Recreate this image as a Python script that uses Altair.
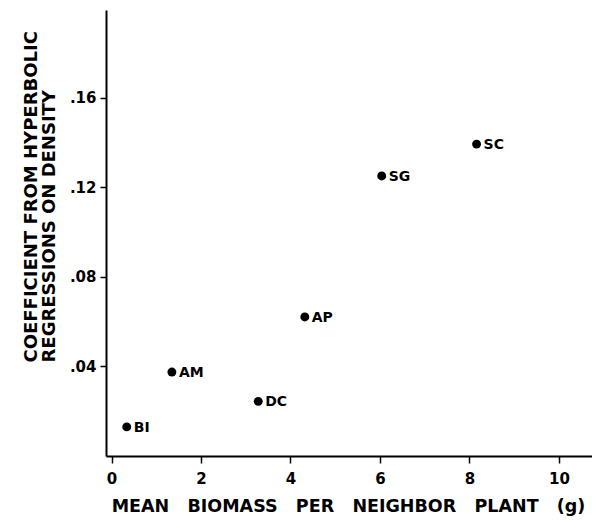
import altair as alt
import pandas as pd

species = ["BI", "AM", "DC", "AP", "SG", "SC"]
biomass = [0.34, 1.35, 3.28, 4.32, 6.04, 8.16]
coefficient = [0.0130, 0.0375, 0.0244, 0.0621, 0.1251, 0.1393]

x_ticks = [0, 2, 4, 6, 8, 10]
y_ticks = [0.04, 0.08, 0.12, 0.16]

df = pd.DataFrame({"species": species, "biomass": biomass, "coef": coefficient})

FONT = "DejaVu Sans"
NB = "\u00a0"

x_title = (NB * 3).join(["MEAN", "BIOMASS", "PER", "NEIGHBOR", "PLANT", "(g)"])
y_title = ["COEFFICIENT FROM HYPERBOLIC", "REGRESSIONS ON DENSITY"]

x_enc = alt.X(
    "biomass:Q",
    scale=alt.Scale(domain=[-0.123, 10.74], nice=False, zero=False),
    axis=alt.Axis(
        values=x_ticks,
        title=x_title,
        grid=False,
        domainColor="black",
        domainWidth=2,
        tickColor="black",
        tickWidth=1.5,
        tickSize=7,
        labelPadding=8,
        labelFont=FONT,
        labelFontSize=15,
        labelFontWeight="bold",
        labelColor="black",
        titleFont=FONT,
        titleFontSize=17.5,
        titleFontWeight="bold",
        titleColor="black",
        titlePadding=11,
        titleX=242,
    ),
)

y_enc = alt.Y(
    "coef:Q",
    scale=alt.Scale(domain=[0, 0.1992], nice=False),
    axis=alt.Axis(
        values=y_ticks,
        labelExpr="replace(format(datum.value, '.2f'), '0.', '.')",
        title=y_title,
        grid=False,
        domainColor="black",
        domainWidth=2,
        tickColor="black",
        tickWidth=1.5,
        tickSize=6,
        labelPadding=4,
        labelFont=FONT,
        labelFontSize=15,
        labelFontWeight="bold",
        labelColor="black",
        titleFont=FONT,
        titleFontSize=18,
        titleFontWeight="bold",
        titleColor="black",
        titleAngle=270,
        titleAlign="left",
        titleY=352,
        titleX=-66,
        titleLineHeight=18,
    ),
)

base = alt.Chart(df)

points = base.mark_point(filled=True, size=80, color="black", opacity=1).encode(
    x=x_enc, y=y_enc
)

labels = base.mark_text(
    align="left", baseline="middle", dx=7, dy=1,
    font=FONT, fontSize=14, fontWeight="bold", color="black"
).encode(x="biomass:Q", y="coef:Q", text="species:N")

chart = (
    alt.layer(points, labels)
    .properties(
        width=486,
        height=446,
        autosize=alt.AutoSizeParams(type="none"),
        padding={"left": 98, "top": 2, "right": 0, "bottom": 64},
        background="white",
    )
    .configure_view(stroke=None)
)

chart.save("out.html", embed_options={"renderer": "svg", "actions": False})
